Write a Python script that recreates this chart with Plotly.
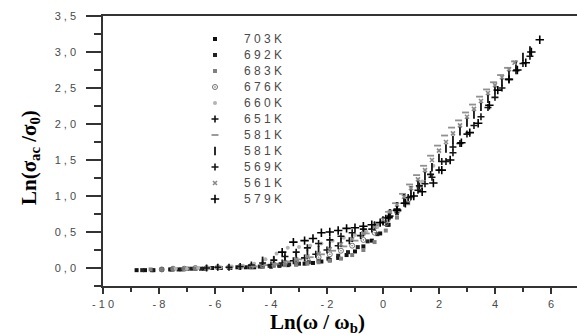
import plotly.graph_objects as go

# ---------------- data ----------------
labels = ["703K", "692K", "683K", "676K", "660K", "651K", "581K", "581K", "569K", "561K", "579K"]

x703 = [-8.8,-8.5,-8.2,-7.9,-7.6,-7.3,-7.0,-6.7,-6.4,-6.1,-5.8,-5.5,-5.2,-4.9,-4.6,-4.3,-4.0,-3.7,-3.4,-3.1,-2.8,-2.5,-2.2,-1.9,-1.6,-1.3,-1.0,-0.7,-0.4,-0.1,0.2]
y703 = [-0.03,-0.03,-0.03,-0.02,-0.02,-0.02,-0.01,-0.01,-0.01,0.0,0.0,0.0,0.01,0.01,0.01,0.02,0.02,0.03,0.04,0.05,0.06,0.07,0.09,0.11,0.14,0.18,0.23,0.3,0.38,0.48,0.6]

x692 = [-8.6,-8.25,-7.9,-7.55,-7.2,-6.85,-6.5,-6.15,-5.8,-5.45,-5.1,-4.75,-4.4,-4.05,-3.7,-3.35,-3.0,-2.65,-2.3,-1.95,-1.6,-1.25,-0.9,-0.55,-0.2,0.15,0.5]
y692 = [-0.03,-0.03,-0.02,-0.02,-0.02,-0.01,-0.01,0.0,0.0,0.0,0.01,0.01,0.02,0.03,0.04,0.05,0.06,0.08,0.1,0.13,0.17,0.22,0.29,0.37,0.47,0.6,0.76]

x683 = [-8.3,-7.9,-7.5,-7.1,-6.7,-6.3,-5.9,-5.5,-5.1,-4.7,-4.3,-3.9,-3.5,-3.1,-2.7,-2.3,-1.9,-1.5,-1.1,-0.7,-0.3,0.1,0.5,0.9]
y683 = [-0.02,-0.02,-0.02,-0.01,-0.01,0.0,0.0,0.01,0.01,0.01,0.02,0.03,0.04,0.05,0.06,0.08,0.1,0.13,0.18,0.25,0.36,0.52,0.7,0.9]

x676 = [-7.9,-7.5,-7.1,-6.7,-6.3,-5.9,-5.5,-5.1,-4.7,-4.3,-3.9,-3.5,-3.1,-2.7,-2.3,-1.9,-1.5,-1.1,-0.7,-0.3,0.1,0.5,0.9,1.3]
y676 = [-0.02,-0.01,-0.01,0.0,0.0,0.01,0.01,0.02,0.03,0.04,0.05,0.07,0.09,0.12,0.15,0.19,0.24,0.31,0.39,0.49,0.62,0.78,0.95,1.12]

x660 = [-7.4,-7.0,-6.6,-6.2,-5.8,-5.4,-5.0,-4.6,-4.2,-3.8,-3.4,-3.0,-2.6,-2.2,-1.8,-1.4,-1.0,-0.6,-0.2,0.2,0.6,1.0,1.4,1.8]
y660 = [-0.01,-0.01,0.0,0.0,0.01,0.02,0.03,0.06,0.12,0.2,0.28,0.29,0.31,0.34,0.38,0.42,0.46,0.51,0.57,0.66,0.8,0.98,1.2,1.42]

x651 = [-6.3,-5.9,-5.5,-5.1,-4.7,-4.3,-3.9,-3.5,-3.1,-2.7,-2.3,-1.9,-1.5,-1.1,-0.7,-0.3,0.1,0.5,0.9,1.3,1.7,2.1,2.5]
y651 = [0.0,0.01,0.01,0.02,0.04,0.07,0.11,0.16,0.22,0.28,0.34,0.39,0.44,0.49,0.54,0.6,0.69,0.82,0.98,1.14,1.3,1.48,1.68]

x581a = [-4.6,-4.2,-3.8,-3.4,-3.0,-2.6,-2.2,-1.8,-1.4,-1.0,-0.6,-0.2,0.2,0.45,0.7,0.95,1.2,1.45,1.7,1.95,2.2,2.45,2.7,2.95,3.2,3.45,3.7,3.95,4.2,4.45,4.7]
y581a = [0.02,0.04,0.06,0.09,0.12,0.15,0.19,0.24,0.3,0.38,0.48,0.6,0.78,0.9,1.03,1.16,1.29,1.42,1.56,1.7,1.84,1.95,2.05,2.16,2.27,2.38,2.48,2.58,2.68,2.78,2.87]

x581b = [-4.3,-3.9,-3.5,-3.1,-2.7,-2.3,-1.9,-1.5,-1.1,-0.7,-0.3,0.0,0.25,0.5,0.75,1.0,1.25,1.5,1.75,2.0,2.25,2.5,2.75,3.0,3.25,3.5,3.75,4.0,4.25,4.5,4.75,5.0,5.25]
y581b = [0.1,0.11,0.13,0.16,0.2,0.25,0.3,0.36,0.42,0.5,0.58,0.66,0.76,0.86,0.97,1.08,1.18,1.28,1.4,1.53,1.66,1.78,1.9,2.02,2.13,2.24,2.35,2.47,2.58,2.7,2.82,2.93,3.02]

x569 = [-4.0,-3.6,-3.2,-2.8,-2.4,-2.0,-1.6,-1.2,-0.8,-0.4,0.0,0.25,0.5,0.75,1.0,1.25,1.5,1.75,2.0,2.25,2.5,2.75,3.0,3.25,3.5,3.75,4.0,4.25,4.5,4.75,5.0,5.25]
y569 = [0.04,0.07,0.1,0.14,0.19,0.25,0.31,0.38,0.45,0.54,0.64,0.72,0.81,0.9,0.99,1.08,1.17,1.26,1.36,1.48,1.6,1.73,1.86,1.98,2.1,2.23,2.37,2.5,2.62,2.74,2.84,2.94]

x561 = [-3.9,-3.5,-3.1,-2.7,-2.3,-1.9,-1.5,-1.1,-0.7,-0.3,0.0,0.25,0.5,0.75,1.0,1.25,1.5,1.75,2.0,2.25,2.5,2.75,3.0,3.25,3.5,3.75,4.0,4.25,4.5,4.7]
y561 = [0.05,0.08,0.12,0.16,0.2,0.26,0.33,0.4,0.48,0.57,0.67,0.78,0.88,0.99,1.11,1.23,1.36,1.5,1.63,1.75,1.87,1.98,2.1,2.21,2.32,2.43,2.54,2.65,2.76,2.85]

x579 = [-3.6,-3.2,-2.8,-2.5,-2.2,-1.9,-1.6,-1.3,-1.0,-0.7,-0.4,-0.1,0.2,0.5,0.8,1.1,1.4,1.8,2.1,2.4,2.8,3.1,3.4,3.8,4.1,4.5,4.8,5.1,5.3,5.6]
y579 = [0.22,0.36,0.38,0.41,0.49,0.5,0.52,0.55,0.56,0.58,0.6,0.63,0.7,0.8,0.9,1.0,1.06,1.18,1.36,1.5,1.74,1.88,2.01,2.26,2.47,2.62,2.75,2.85,3.0,3.17]

series_x = [x703, x692, x683, x676, x660, x651, x581a, x581b, x569, x561, x579]
series_y = [y703, y692, y683, y676, y660, y651, y581a, y581b, y569, y561, y579]

x_ticks = [-10, -8, -6, -4, -2, 0, 2, 4, 6]
x_ticklabels = ["-10", "-8", "-6", "-4", "-2", "0", "2", "4", "6"]
y_ticks = [0.0, 0.5, 1.0, 1.5, 2.0, 2.5, 3.0, 3.5]
y_ticklabels = ["0,0", "0,5", "1,0", "1,5", "2,0", "2,5", "3,0", "3,5"]

# ---------------- styles ----------------
styles = [
    dict(symbol="square", size=4, color="#111111", line=dict(width=0)),
    dict(symbol="square", size=4, color="#222222", line=dict(width=0)),
    dict(symbol="square", size=4, color="#808080", line=dict(width=0)),
    dict(symbol="circle-open-dot", size=5, color="#707070", line=dict(width=1, color="#707070")),
    dict(symbol="circle", size=4, color="#b4b4b4", line=dict(width=0)),
    dict(symbol="cross-thin", size=5, color="#111111", line=dict(width=1.6, color="#111111")),
    dict(symbol="line-ew", size=5, color="#909090", line=dict(width=1.8, color="#909090")),
    dict(symbol="line-ns", size=6, color="#151515", line=dict(width=1.8, color="#151515")),
    dict(symbol="cross-thin", size=5, color="#151515", line=dict(width=1.6, color="#151515")),
    dict(symbol="x-thin", size=4, color="#8a8a8a", line=dict(width=1.6, color="#8a8a8a")),
    dict(symbol="cross-thin", size=6, color="#000000", line=dict(width=1.6, color="#000000")),
]

W, H = 577, 335
ML, MR, MT, MB = 103, 0, 16, 49

def spaced(s):
    return " ".join(list(s))

fig = go.Figure()
for xs, ys, st, lab in zip(series_x, series_y, styles, labels):
    fig.add_trace(go.Scatter(x=xs, y=ys, mode="markers", marker=st, name=lab,
                             showlegend=False, cliponaxis=False))

# legend keys drawn on an overlay axis whose units are legend rows
for i, (st, lab) in enumerate(zip(styles, labels)):
    fig.add_trace(go.Scatter(x=[0], y=[i], mode="markers", marker=st, xaxis="x2", yaxis="y2",
                             showlegend=False, hoverinfo="skip"))
    fig.add_annotation(x=1, y=i, xref="x2", yref="y2", text=spaced(lab), showarrow=False,
                       xanchor="left", yanchor="middle",
                       font=dict(family="Liberation Sans, Arial", size=12, color="#4a4a4a"))

tickfont = dict(family="Liberation Sans, Arial", size=11, color="#4a4a4a")
fig.update_layout(
    width=W, height=H, margin=dict(l=ML, r=MR, t=MT, b=MB),
    paper_bgcolor="white", plot_bgcolor="white",
    xaxis=dict(range=[-10, 6.93], tickvals=x_ticks, ticktext=[spaced(t) for t in x_ticklabels],
               ticks="outside", ticklen=6, tickwidth=1.5, tickcolor="#333",
               showline=True, linecolor="#333", linewidth=1.5, mirror=True,
               showgrid=False, zeroline=False, tickfont=tickfont, ticklabelstandoff=1,
               minor=dict(dtick=1, ticks="outside", ticklen=4, tickwidth=1.5, tickcolor="#333", showgrid=False)),
    yaxis=dict(range=[-0.25, 3.5], tickvals=y_ticks, ticktext=[spaced(t) for t in y_ticklabels],
               ticks="outside", ticklen=15, tickwidth=1.5, tickcolor="#333",
               showline=True, linecolor="#333", linewidth=1.5, mirror=False,
               showgrid=False, zeroline=False, tickfont=tickfont, ticklabelstandoff=8,
               minor=dict(dtick=0.25, tick0=0, ticks="outside", ticklen=7, tickwidth=1.5, tickcolor="#333", showgrid=False)),
    xaxis2=dict(domain=[0, 1], range=[-4.148, 13.407], visible=False, anchor="y2", overlaying="x"),
    yaxis2=dict(domain=[0, 1], range=[15.4375, -1.4375], visible=False, anchor="x2", overlaying="y"),
)

title_font = dict(family="Liberation Serif, Times New Roman", size=21, color="black", weight="bold")
fig.add_annotation(x=(317 - ML) / (W - ML - MR), y=(H - MB - 323) / (H - MT - MB), xref="paper", yref="paper",
                   text="<b>Ln(ω / ω<sub>b</sub>)</b>", showarrow=False, xanchor="center", yanchor="middle",
                   font=title_font)
fig.add_annotation(x=(30 - ML) / (W - ML - MR), y=(H - MB - 158) / (H - MT - MB), xref="paper", yref="paper",
                   text="<b>Ln(σ<sub>ac</sub> /σ<sub>0</sub>)</b>", showarrow=False, textangle=-90,
                   xanchor="center", yanchor="middle", font=dict(title_font, size=21))

fig.write_html("out.html")
